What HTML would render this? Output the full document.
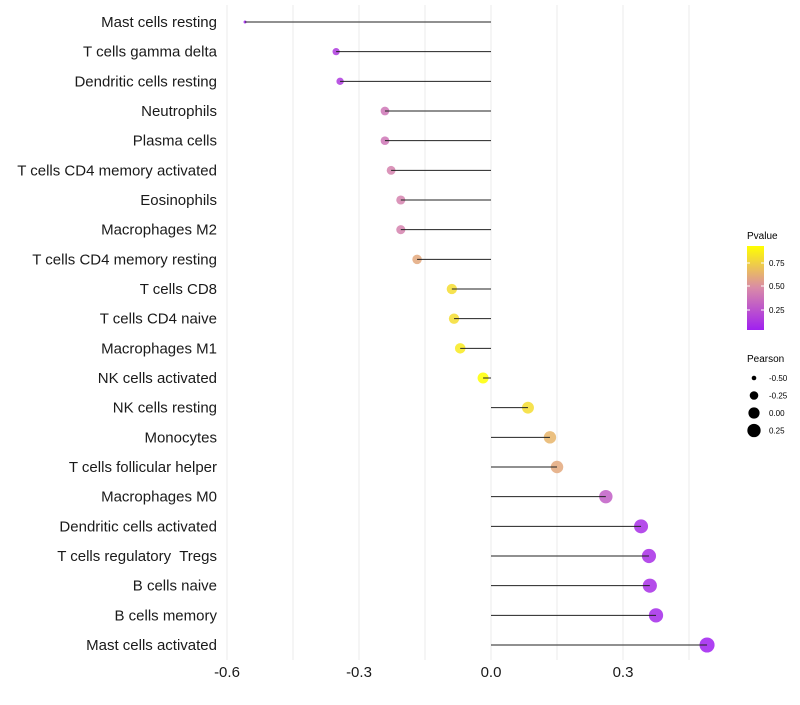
<!DOCTYPE html>
<html><head><meta charset="utf-8"><style>
body{margin:0;background:#fff;font-family:"Liberation Sans",sans-serif}
text{white-space:pre}
</style></head><body>
<svg id="chart" width="800" height="700" xmlns="http://www.w3.org/2000/svg" font-family="Liberation Sans, sans-serif">
<defs><linearGradient id="pg" x1="0" y1="1" x2="0" y2="0">
<stop offset="0" stop-color="#A020F0"/><stop offset="0.5" stop-color="#D98AA8"/><stop offset="1" stop-color="#FFFF00"/></linearGradient></defs>
<g id="grid"></g><g id="marks"></g><g id="labels"></g>
<g>
<text x="747" y="239" font-size="10">Pvalue</text>
<rect x="747" y="246" width="17" height="84" fill="url(#pg)"/>
<g stroke="#fff" stroke-width="1"><line x1="747" y1="263" x2="750" y2="263"/><line x1="761" y1="263" x2="764" y2="263"/><line x1="747" y1="286" x2="750" y2="286"/><line x1="761" y1="286" x2="764" y2="286"/><line x1="747" y1="310" x2="750" y2="310"/><line x1="761" y1="310" x2="764" y2="310"/></g>
<text x="769" y="266" font-size="8">0.75</text><text x="769" y="289" font-size="8">0.50</text><text x="769" y="313" font-size="8">0.25</text>
</g>
<g id="sizeleg">
<text x="747" y="362" font-size="10">Pearson</text>
</g>
</svg>
<script>
const categories=["Mast cells resting","T cells gamma delta","Dendritic cells resting","Neutrophils","Plasma cells","T cells CD4 memory activated","Eosinophils","Macrophages M2","T cells CD4 memory resting","T cells CD8","T cells CD4 naive","Macrophages M1","NK cells activated","NK cells resting","Monocytes","T cells follicular helper","Macrophages M0","Dendritic cells activated","T cells regulatory  Tregs","B cells naive","B cells memory","Mast cells activated"];
const pearson=[-0.559,-0.352,-0.343,-0.241,-0.241,-0.227,-0.205,-0.205,-0.168,-0.089,-0.084,-0.070,-0.018,0.084,0.134,0.150,0.261,0.341,0.359,0.361,0.375,0.491];
const pvalue=[0.04,0.15,0.15,0.40,0.40,0.45,0.45,0.45,0.60,0.80,0.80,0.85,0.93,0.80,0.65,0.60,0.30,0.10,0.10,0.10,0.08,0.04];
const xTicks=[-0.6,-0.3,0.0,0.3];
const xTickLabels=["-0.6","-0.3","0.0","0.3"];
const gridVals=[-0.6,-0.45,-0.3,-0.15,0,0.15,0.3,0.45];
const sizeLegend=[-0.5,-0.25,0,0.25];
const sizeLegendLabels=["-0.50","-0.25","0.00","0.25"];
const NS="http://www.w3.org/2000/svg";
const x=v=>491+v*440;
const y=i=>22+i*(623/21);
const r=v=>Math.sqrt(Math.max(0,2.25+52*(v+0.559)));
function col(p){const t=Math.max(0,Math.min(1,(p-0.04)/(0.93-0.04)));
 const a=[160,32,240],m=[217,138,168],b=[255,255,0];let c;
 if(t<0.5){const s=t*2;c=a.map((v,k)=>v+(m[k]-v)*s);}else{const s=(t-0.5)*2;c=m.map((v,k)=>v+(b[k]-v)*s);}
 return `rgb(${c.map(Math.round).join(',')})`;}
function mk(tag,at,parent){const e=document.createElementNS(NS,tag);for(const k in at)e.setAttribute(k,at[k]);parent.appendChild(e);return e;}
const grid=document.getElementById('grid'),marks=document.getElementById('marks'),labels=document.getElementById('labels');
gridVals.forEach(v=>{const l=mk('line',{x1:x(v),x2:x(v),y1:5,y2:660,stroke:'#ebebeb','stroke-width':1},grid);

});
categories.forEach((c,i)=>{
 const d=mk('circle',{cx:x(pearson[i]),cy:y(i),r:r(pearson[i]),fill:col(pvalue[i]),'fill-opacity':0.85},marks);
 
 
 const s=mk('line',{x1:x(0),x2:x(pearson[i]),y1:y(i),y2:y(i),stroke:'#222','stroke-width':1},marks);
 
 
 const t=mk('text',{x:217,y:y(i)+5,'text-anchor':'end','font-size':15,fill:'#1a1a1a'},labels);
 t.textContent=c;
 
 
});
xTicks.forEach((v,i)=>{const t=mk('text',{x:x(v),y:677,'text-anchor':'middle','font-size':15,fill:'#1a1a1a'},labels);
 t.textContent=xTickLabels[i];
 
 });
const sl=document.getElementById('sizeleg');
sizeLegend.forEach((v,i)=>{const cy=378+i*17.5;
 const c=mk('circle',{cx:754,cy:cy,r:r(v),fill:'#000'},sl);
 
 
 const t=mk('text',{x:769,y:cy+3,'font-size':8},sl);t.textContent=sizeLegendLabels[i];
 
 });
</script>
</body></html>
